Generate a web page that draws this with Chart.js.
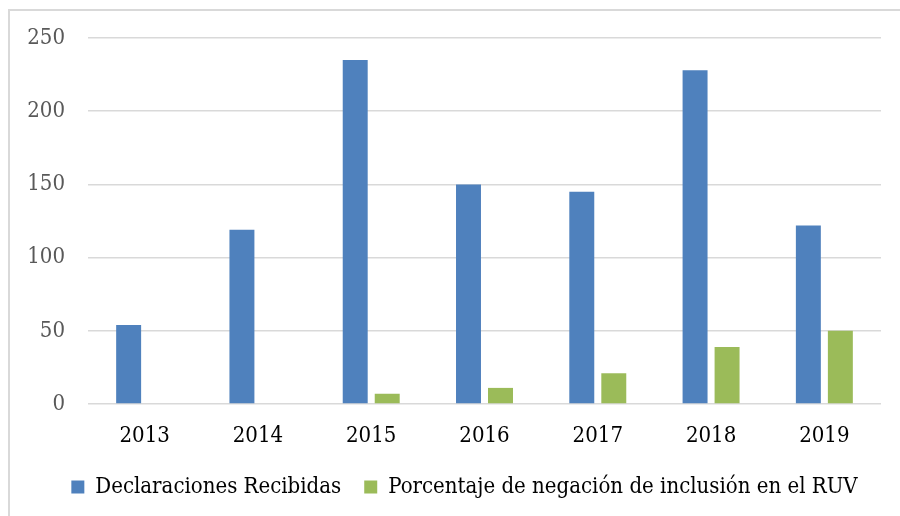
<!DOCTYPE html>
<html>
<head>
<meta charset="utf-8">
<script src="https://cdn.jsdelivr.net/npm/chart.js@4/dist/chart.umd.min.js"></script>
<style>
html,body{margin:0;padding:0;background:#fff;}
#wrap{position:relative;width:900px;height:516px;}
</style>
</head>
<body>
<div id="wrap"><canvas id="c" width="900" height="516"></canvas></div>
<script>
const years = ["2013","2014","2015","2016","2017","2018","2019"];
const declaraciones = [54, 119, 235, 150, 145, 228, 122];
const porcentaje = [0, 0, 7, 11, 21, 39, 50];
const yTicks = [0, 50, 100, 150, 200, 250];

const FONT = "'DejaVu Serif Condensed', 'DejaVu Serif', serif";

const frame = {
  id: 'frame',
  afterUpdate(chart) {
    if (chart.legend) { chart.legend.left += 48; }
  },
  beforeDraw(chart) {
    const ctx = chart.ctx;
    ctx.save();
    ctx.fillStyle = '#fff';
    ctx.fillRect(0, 0, chart.width, chart.height);
    ctx.strokeStyle = '#d9d9d9';
    ctx.lineWidth = 2;
    ctx.beginPath();
    ctx.moveTo(9, 520);
    ctx.lineTo(9, 10);
    ctx.lineTo(905, 10);
    ctx.stroke();
    ctx.restore();
  }
};

new Chart(document.getElementById('c'), {
  type: 'bar',
  data: {
    labels: years,
    datasets: [
      { label: 'Declaraciones Recibidas', data: declaraciones, backgroundColor: '#4F81BD',
        categoryPercentage: 0.565, barPercentage: 0.78 },
      { label: 'Porcentaje de negación de inclusión en el RUV', data: porcentaje, backgroundColor: '#9BBB59',
        categoryPercentage: 0.565, barPercentage: 0.78 }
    ]
  },
  options: {
    responsive: false,
    animation: false,
    devicePixelRatio: 1,
    layout: { padding: { top: 38, right: 19, left: 0, bottom: 8 } },
    plugins: {
      tooltip: { enabled: false },
      legend: {
        position: 'bottom',
        labels: {
          boxWidth: 13, boxHeight: 13, padding: 23,
          color: '#000',
          font: { family: FONT, size: 22 }
        }
      }
    },
    scales: {
      x: {
        grid: { display: false, drawTicks: false },
        border: { display: false },
        ticks: { color: '#000', font: { family: FONT, size: 22 }, padding: 19 },
        afterFit(s) { s.height = 49; }
      },
      y: {
        min: 0, max: 250,
        afterBuildTicks(s) { s.ticks = yTicks.map(v => ({ value: v })); },
        grid: { color: '#d9d9d9', lineWidth: 1.5, drawTicks: false },
        border: { display: false },
        ticks: { color: '#595959', font: { family: FONT, size: 22 }, padding: 23 },
        afterFit(s) { s.width = 88; }
      }
    }
  },
  plugins: [frame]
});
</script>
</body>
</html>
